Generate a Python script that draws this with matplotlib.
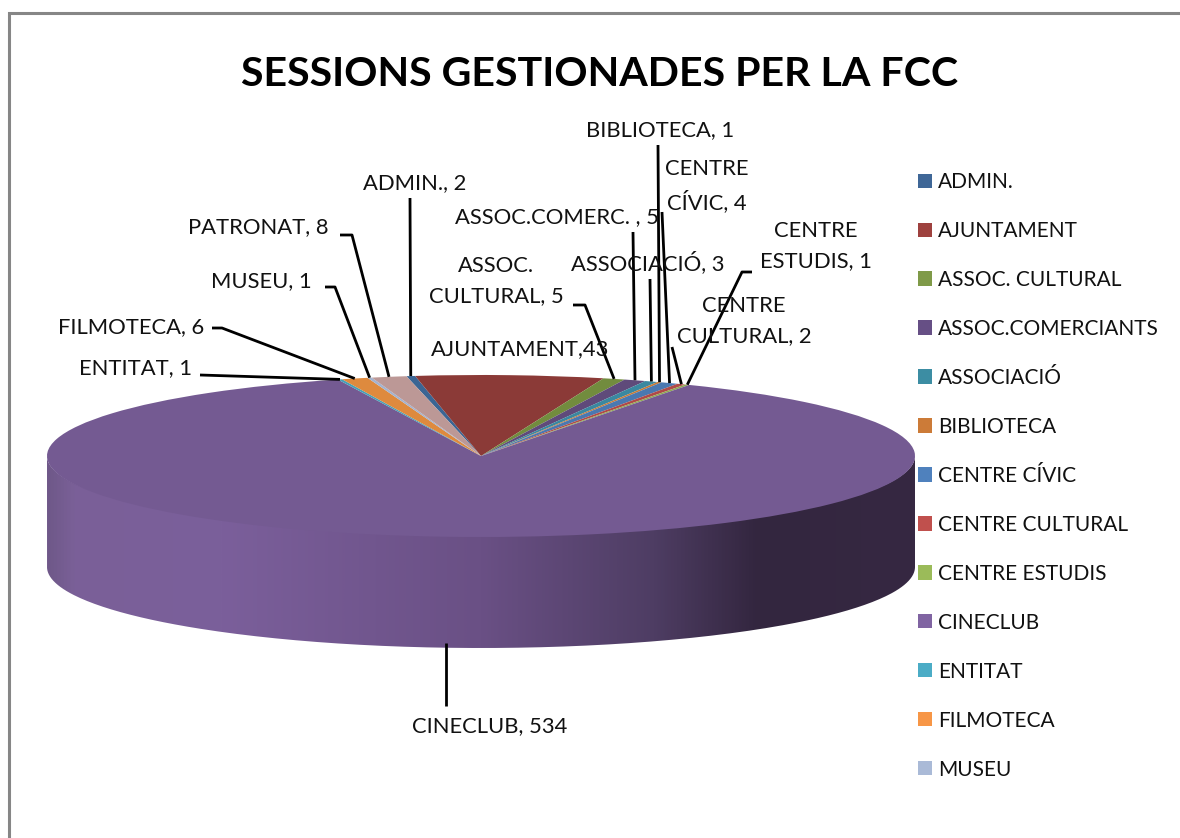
import matplotlib
matplotlib.use("Agg")
import matplotlib.pyplot as plt
import numpy as np
from matplotlib.colors import LinearSegmentedColormap
from matplotlib.patches import PathPatch, Patch
from matplotlib.path import Path

W, H = 1180, 838
plt.rcParams['font.family'] = ['Lato', 'DejaVu Sans']

TITLE = "SESSIONS GESTIONADES PER LA FCC"
categories = ["ADMIN.", "AJUNTAMENT", "ASSOC. CULTURAL", "ASSOC.COMERCIANTS", "ASSOCIACIÓ",
              "BIBLIOTECA", "CENTRE CÍVIC", "CENTRE CULTURAL", "CENTRE ESTUDIS", "CINECLUB",
              "ENTITAT", "FILMOTECA", "MUSEU", "PATRONAT"]
values = [2, 43, 5, 5, 3, 1, 4, 2, 1, 534, 1, 6, 1, 8]
label_names = ["ADMIN., 2", "AJUNTAMENT,43", "ASSOC.\nCULTURAL, 5", "ASSOC.COMERC. , 5", "ASSOCIACIÓ, 3",
               "BIBLIOTECA, 1", "CENTRE\nCÍVIC, 4", "CENTRE\nCULTURAL, 2", "CENTRE\nESTUDIS, 1", "CINECLUB, 534",
               "ENTITAT, 1", "FILMOTECA, 6", "MUSEU, 1", "PATRONAT, 8"]
slice_colors = ["#3A6594", "#8B3A37", "#728C3E", "#5F4A7A", "#3A88A0", "#C77A36", "#4A78B0",
                "#B04A47", "#8FAB50", "#745A92", "#45A0B8", "#DE8A3E", "#A3B3D0", "#BC9896"]
legend_colors = ["#3F6797", "#9E413E", "#7F9A48", "#664F85", "#3C8DA3", "#CC7B38", "#4F81BD",
                 "#C0504D", "#9BBB59", "#8064A2", "#4BACC6", "#F79646", "#AABAD7", "#D99694"]

# layout in reference pixels
CX, CY, RX, RY, DEPTH = 481, 456, 434, 81, 111
START_FROM_NORTH = -9.9
label_pos = [(415, 183), (520, 349), (496, 281), (557, 217), (648, 263), (660, 130), (707, 186),
             (744, 321), (816, 246), (490, 726), (136, 368), (131, 327), (261, 281), (258, 227)]
leader_start = [(410, 198), None, (573, 305), (633, 232), (650, 279), (658, 145), (662, 212),
                (672, 347), (752, 272), (446, 706), (200, 375), (212, 328), (325, 287), (340, 235)]
leader_elbow = [None, None, (585, 305), None, None, None, None, None, (742, 272), None, None,
                (222, 328), (335, 287), (352, 235)]

fig = plt.figure(figsize=(W / 100, H / 100), dpi=100, facecolor="white")


def page_axes(z):
    a = fig.add_axes([0, 0, 1, 1], zorder=z)
    a.set_axis_off()
    a.patch.set_alpha(0)
    return a


ax_side = page_axes(0)
ax_top = page_axes(2)

# side wall of the disc
t = np.linspace(0, np.pi, 240)
ex, ey = CX + RX * np.cos(t), CY + RY * np.sin(t)
verts = np.vstack([np.column_stack([ex, ey - 2 * np.sin(t)]),
                   np.column_stack([ex[::-1], ey[::-1] + DEPTH])])
wall = Path(verts, closed=False)
shade = LinearSegmentedColormap.from_list("wall", [
    (0.00, "#6F5889"), (0.03, "#7A6098"), (0.20, "#7B5F9B"), (0.50, "#6A5085"),
    (0.70, "#4E3D63"), (0.82, "#33263F"), (1.00, "#362842")])
img = ax_side.imshow(np.linspace(0, 1, 512)[None, :], cmap=shade, aspect="auto",
                     extent=(CX - RX, CX + RX, CY + RY + DEPTH + 2, CY - 2))
img.set_clip_path(PathPatch(wall, transform=ax_side.transData))
ax_side.set_xlim(0, W)
ax_side.set_ylim(H, 0)

# top of the disc: a pie squashed into an ellipse
ax_pie = fig.add_axes([(CX - RX) / W, 1 - (CY + RY) / H, 2 * RX / W, 2 * RY / H], zorder=1)
wedges, _ = ax_pie.pie(values, colors=slice_colors, startangle=90 - START_FROM_NORTH,
                       counterclock=False, radius=1)
ax_pie.set_aspect("auto")
ax_pie.set_xlim(-1, 1)
ax_pie.set_ylim(-1, 1)

# frame, title
ax_top.set_xlim(0, W)
ax_top.set_ylim(H, 0)
ax_top.plot([W, 8.5, 8.5], [13, 13, H], color="#868686", lw=2.2, solid_joinstyle="miter")
ax_top.text(600, 74, TITLE, ha="center", va="center", fontsize=29.6, fontweight="bold", color="black")

# labels and leaders
for i, w in enumerate(wedges):
    ax_top.text(*label_pos[i], label_names[i], ha="center", va="center", fontsize=15.8,
                color="#111111", linespacing=1.6, multialignment="center")
    if leader_start[i] is None:
        continue
    mid = np.deg2rad((w.theta1 + w.theta2) / 2)
    rim = (CX + RX * np.cos(mid), CY - RY * np.sin(mid))
    if categories[i] == "CINECLUB":
        rim = (leader_start[i][0], CY + RY + DEPTH - 5)
    pts = [leader_start[i]] + ([leader_elbow[i]] if leader_elbow[i] else []) + [rim]
    xs, ys = zip(*pts)
    ax_top.plot(xs, ys, color="black", lw=2.0, solid_capstyle="butt")

# legend (the reference cuts off the last entry)
handles = [Patch(facecolor=c, edgecolor="none") for c in legend_colors[:13]]
leg = fig.legend(handles, categories[:13], loc="upper left", bbox_to_anchor=(918 / W, 1 - 172 / H),
                 frameon=False, fontsize=15, labelspacing=1.39, handlelength=0.68,
                 handleheight=0.68, handletextpad=0.27, borderpad=0, borderaxespad=0)
leg.set_zorder(3)
for txt in leg.get_texts():
    txt.set_color("#111111")

fig.savefig("out.png", dpi=100, facecolor="white")
